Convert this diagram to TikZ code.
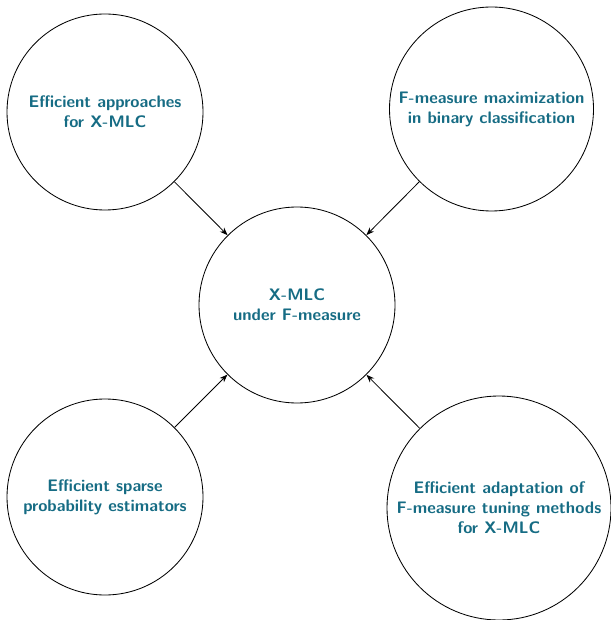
\documentclass[tikz,border=0pt]{standalone}
\usetikzlibrary{arrows.meta}
\definecolor{topic}{RGB}{22,108,132}
\begin{document}
\begin{tikzpicture}[x=0.6pt,y=-0.6pt,
  topicnode/.style={circle,draw=black,line width=0.5pt,align=center,
    font=\sffamily\bfseries,text=topic,inner sep=0pt},
  link/.style={-{Stealth[length=4.8pt,width=3.6pt]},line width=0.5pt}]
  \useasboundingbox (0,0) rectangle (611,620);
  \node[topicnode,minimum size=117.6pt] (core) at (297,305) {X-MLC\\under F-measure};
  \node[topicnode,minimum size=117.6pt] (tl) at (105,112) {Efficient approaches\\for X-MLC};
  \node[topicnode,minimum size=122.4pt] (tr) at (491.5,109) {F-measure maximization\\in binary classification};
  \node[topicnode,minimum size=117.6pt] (bl) at (105,497) {Efficient sparse\\probability estimators};
  \node[topicnode,minimum size=134.4pt] (br) at (499,508) {Efficient adaptation of\\F-measure tuning methods\\for X-MLC};
  \draw[link] (tl) -- (core);
  \draw[link] (tr) -- (core);
  \draw[link] (bl) -- (core);
  \draw[link] (br) -- (core);
\end{tikzpicture}
\end{document}
